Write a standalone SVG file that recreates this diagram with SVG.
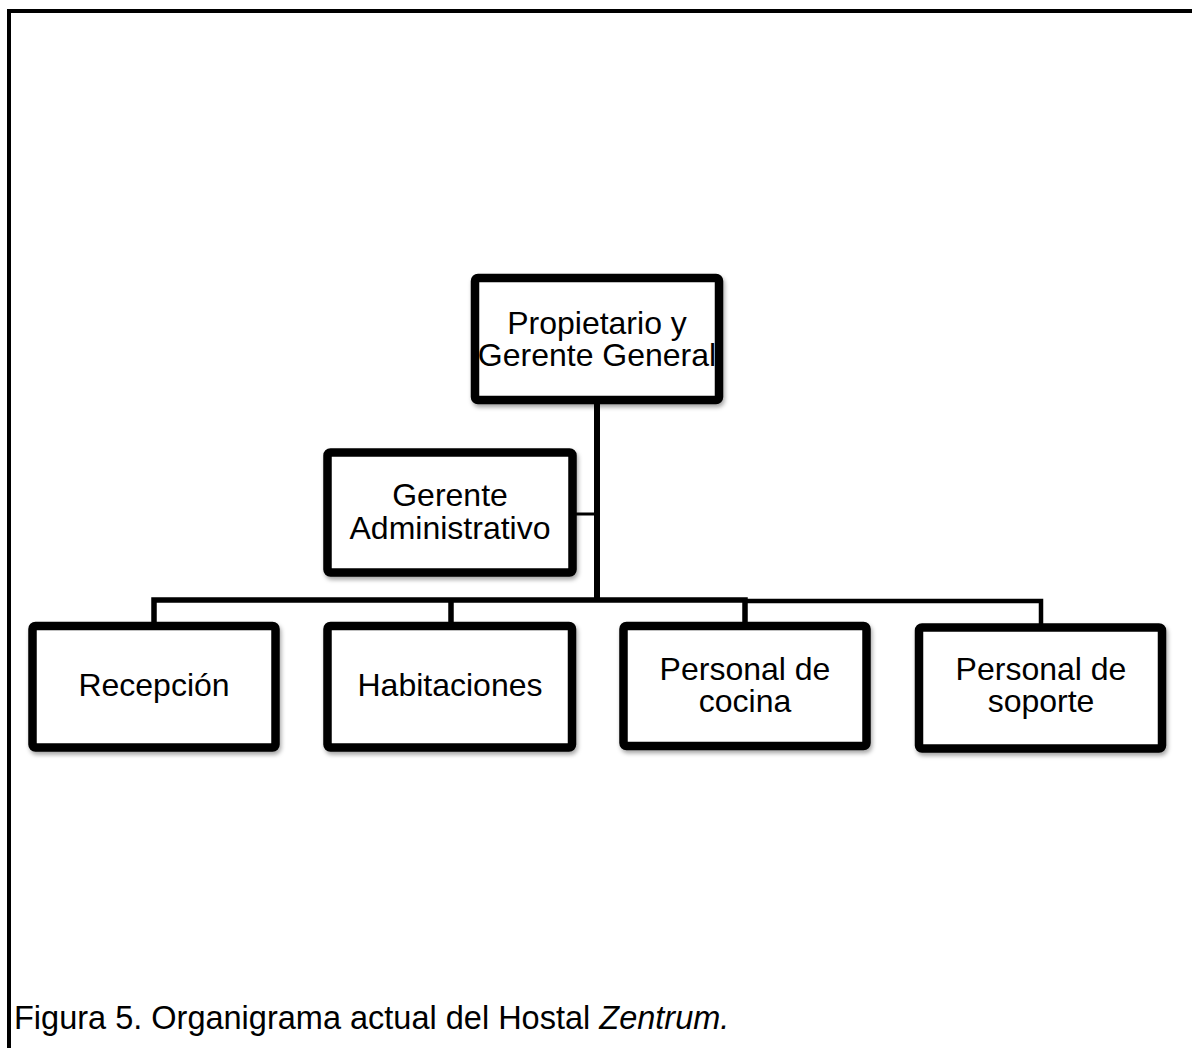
<svg xmlns="http://www.w3.org/2000/svg" width="1192" height="1048" viewBox="0 0 1192 1048">
<style>
.box{fill:#fff;stroke:#000;stroke-width:8.5;filter:url(#sh)}
.lbl{font-family:"Liberation Sans",Arial,sans-serif;font-size:32px;fill:#000;text-anchor:middle}
.cap{font-family:"Liberation Sans",Arial,sans-serif;font-size:32.5px;fill:#000}
.conn{fill:none;stroke:#000;stroke-linejoin:miter}
</style>
<defs>
<filter id="sh" x="-10%" y="-10%" width="130%" height="130%">
<feDropShadow dx="1.5" dy="3" stdDeviation="2" flood-color="#000" flood-opacity="0.35"/>
</filter>
</defs>
<rect width="1192" height="1048" fill="#fff"/>
<g id="frame" fill="none" stroke="#000" stroke-width="4">
<path d="M9 1048 V11 H1192"/>
</g>
<g id="connectors">
<path class="conn" stroke-width="6" d="M597 404 V600"/>
<path class="conn" stroke-width="3" d="M576 514 H597"/>
<path class="conn" stroke-width="5.5" d="M154 622 V600 H745 V622"/>
<path class="conn" stroke-width="5.5" d="M451 600 V622"/>
<path class="conn" stroke-width="4.5" d="M745 601 H1041 V624"/>
</g>
<g id="node-propietario">
<rect class="box" x="475" y="278" width="244" height="122" rx="3"/>
<text class="lbl" x="597" y="334">Propietario y</text>
<text class="lbl" x="597" y="366">Gerente General</text>
</g>
<g id="node-administrativo">
<rect class="box" x="327.5" y="452.5" width="245" height="120" rx="3"/>
<text class="lbl" x="450" y="506">Gerente</text>
<text class="lbl" x="450" y="539">Administrativo</text>
</g>
<g id="node-recepcion">
<rect class="box" x="32.5" y="626" width="243" height="121.5" rx="3"/>
<text class="lbl" x="154" y="696">Recepción</text>
</g>
<g id="node-habitaciones">
<rect class="box" x="327.5" y="626" width="244.5" height="121.5" rx="3"/>
<text class="lbl" x="450" y="696">Habitaciones</text>
</g>
<g id="node-cocina">
<rect class="box" x="623.5" y="626" width="243" height="120" rx="3"/>
<text class="lbl" x="745" y="680">Personal de</text>
<text class="lbl" x="745" y="712">cocina</text>
</g>
<g id="node-soporte">
<rect class="box" x="919" y="627.5" width="243" height="121" rx="3"/>
<text class="lbl" x="1041" y="680">Personal de</text>
<text class="lbl" x="1041" y="712">soporte</text>
</g>
<text class="cap" x="14" y="1029">Figura 5. Organigrama actual del Hostal <tspan font-style="italic">Zentrum.</tspan></text>
</svg>
